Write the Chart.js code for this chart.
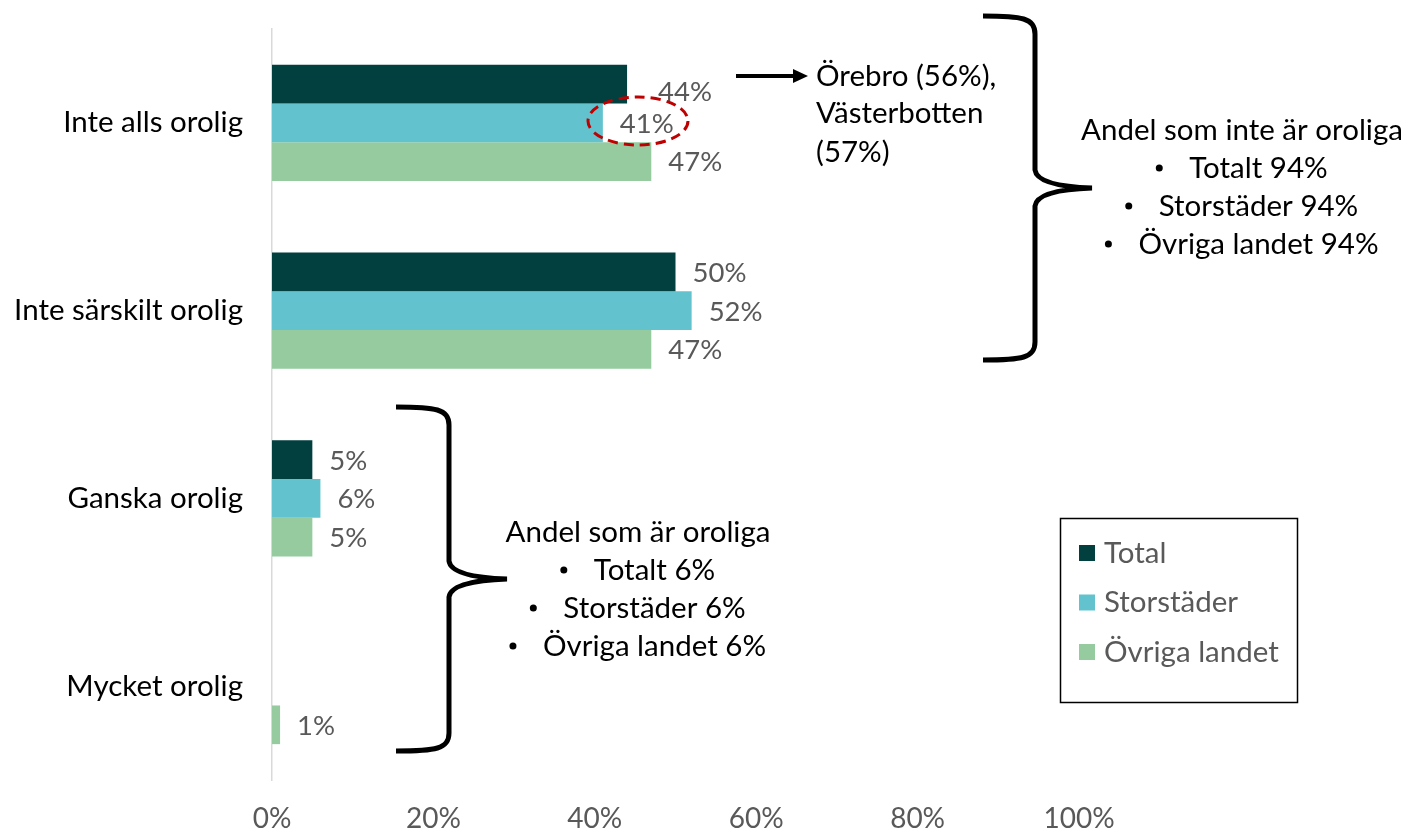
<!DOCTYPE html>
<html>
<head>
<meta charset="utf-8">
<script src="https://cdn.jsdelivr.net/npm/chart.js@4"></script>
<style>
  html, body { margin: 0; padding: 0; background: #fff; }
  #wrap { width: 1407px; height: 832px; }
</style>
</head>
<body>
<div id="wrap"><canvas id="barChart" width="1407" height="832"></canvas></div>
<script>
const categories = ['Inte alls orolig', 'Inte särskilt orolig', 'Ganska orolig', 'Mycket orolig'];
const seriesNames = ['Total', 'Storstäder', 'Övriga landet'];
const totalValues = [44, 50, 5, 0];
const storstaderValues = [41, 52, 6, 0];
const ovrigaValues = [47, 47, 5, 1];
const xTicks = [0, 20, 40, 60, 80, 100];
const colors = ['#023F3F', '#62C3CF', '#95CB9F'];

const FONT = 'Lato, Calibri, "Open Sans", sans-serif';
const TEXT_SIZE = 29.5;

// value labels next to bars
const valueLabels = {
    id: 'valueLabels',
    afterDatasetsDraw(chart) {
        const ctx = chart.ctx;
        ctx.save();
        ctx.font = '27.5px ' + FONT;
        ctx.fillStyle = '#595959';
        ctx.textAlign = 'left';
        ctx.textBaseline = 'middle';
        chart.data.datasets.forEach((ds, di) => {
            const meta = chart.getDatasetMeta(di);
            meta.data.forEach((bar, i) => {
                const v = ds.data[i];
                if (!v) return;
                let dx = 17, dy = 1;
                if (di === 0 && i === 0) { dx = 31; dy = 8; } // moved aside for the ellipse
                ctx.fillText(v + '%', bar.x + dx, bar.y + dy);
            });
        });
        ctx.restore();
    }
};

function drawBrace(ctx, tipX, spineX, pointX, yTop, yBot, r) {
    const yMid = (yTop + yBot) / 2;
    ctx.beginPath();
    ctx.moveTo(tipX, yTop);
    ctx.bezierCurveTo(tipX + (spineX - tipX) * 0.75, yTop, spineX, yTop + 2, spineX, yTop + r);
    ctx.lineTo(spineX, yMid - r);
    ctx.quadraticCurveTo(spineX + 2, yMid - 2, pointX, yMid);
    ctx.quadraticCurveTo(spineX + 2, yMid + 2, spineX, yMid + r);
    ctx.lineTo(spineX, yBot - r);
    ctx.bezierCurveTo(spineX, yBot - 2, tipX + (spineX - tipX) * 0.75, yBot, tipX, yBot);
    ctx.stroke();
}

function drawBulletBlock(ctx, title, lines, cx, y0, lh) {
    ctx.fillStyle = '#000';
    ctx.textBaseline = 'middle';
    ctx.textAlign = 'center';
    ctx.fillText(title, cx, y0);
    ctx.textAlign = 'left';
    const gap = 33;
    lines.forEach((t, k) => {
        const w = ctx.measureText(t).width + gap;
        const left = cx - w / 2;
        const y = y0 + lh * (k + 1);
        ctx.beginPath();
        ctx.arc(left + 3, y, 3.5, 0, Math.PI * 2);
        ctx.fill();
        ctx.fillText(t, left + gap, y);
    });
}

const annotations = {
    id: 'annotations',
    afterDraw(chart) {
        const ctx = chart.ctx;
        ctx.save();
        ctx.strokeStyle = '#000';
        ctx.lineWidth = 5;
        ctx.lineCap = 'butt';
        drawBrace(ctx, 983, 1035, 1092, 16, 360, 18);
        drawBrace(ctx, 396, 449, 507, 407, 751, 18);

        // arrow
        ctx.lineWidth = 4;
        ctx.beginPath();
        ctx.moveTo(736, 76);
        ctx.lineTo(796, 76);
        ctx.stroke();
        ctx.beginPath();
        ctx.moveTo(808, 76);
        ctx.lineTo(793, 69);
        ctx.lineTo(793, 83);
        ctx.closePath();
        ctx.fillStyle = '#000';
        ctx.fill();

        ctx.font = TEXT_SIZE + 'px ' + FONT;
        ctx.fillStyle = '#000';
        ctx.textAlign = 'left';
        ctx.textBaseline = 'middle';
        ctx.fillText('Örebro (56%),', 816, 76);
        ctx.fillText('Västerbotten', 816, 113);
        ctx.fillText('(57%)', 816, 152);

        drawBulletBlock(ctx, 'Andel som inte är oroliga',
            ['Totalt 94%', 'Storstäder 94%', 'Övriga landet 94%'], 1242, 130, 38);
        drawBulletBlock(ctx, 'Andel som är oroliga',
            ['Totalt 6%', 'Storstäder 6%', 'Övriga landet 6%'], 638, 532, 38);

        // dashed ellipse around 41%
        ctx.strokeStyle = '#C00000';
        ctx.lineWidth = 3;
        ctx.setLineDash([10, 6]);
        ctx.beginPath();
        ctx.ellipse(638, 121, 50, 24, 0, 0, Math.PI * 2);
        ctx.stroke();
        ctx.setLineDash([]);

        // legend box
        ctx.strokeStyle = '#000';
        ctx.lineWidth = 1.5;
        ctx.strokeRect(1060.5, 518.5, 237, 184);
        ctx.font = TEXT_SIZE + 'px ' + FONT;
        ctx.textBaseline = 'middle';
        seriesNames.forEach((name, k) => {
            const y = 553 + k * 49.5;
            ctx.fillStyle = colors[k];
            ctx.fillRect(1079, y - 8, 16, 16);
            ctx.fillStyle = '#595959';
            ctx.fillText(name, 1104, y);
        });
        ctx.restore();
    }
};

new Chart(document.getElementById('barChart'), {
    type: 'bar',
    data: {
        labels: categories,
        datasets: [
            { label: seriesNames[0], data: totalValues, backgroundColor: colors[0] },
            { label: seriesNames[1], data: storstaderValues, backgroundColor: colors[1] },
            { label: seriesNames[2], data: ovrigaValues, backgroundColor: colors[2] }
        ]
    },
    options: {
        indexAxis: 'y',
        responsive: false,
        animation: false,
        events: [],
        layout: { padding: { top: 29, right: 328, left: 0, bottom: 0 } },
        datasets: { bar: { barPercentage: 1, categoryPercentage: 0.618 } },
        plugins: { legend: { display: false }, tooltip: { enabled: false } },
        scales: {
            x: {
                min: 0,
                max: 100,
                afterBuildTicks(scale) { scale.ticks = xTicks.map(v => ({ value: v })); },
                afterFit(scale) { scale.height = 52; scale.paddingLeft = 0; scale.paddingRight = 0; },
                grid: { display: false, drawTicks: false },
                border: { display: false },
                ticks: {
                    padding: 22,
                    color: '#595959',
                    font: { family: FONT, size: 28 },
                    callback: v => v + '%'
                }
            },
            y: {
                afterFit(scale) { scale.width = 272; scale.paddingTop = 0; scale.paddingBottom = 0; },
                grid: { display: false, drawTicks: false },
                border: { display: true, color: '#D9D9D9', width: 1.5 },
                ticks: {
                    padding: 29,
                    color: '#000',
                    font: { family: FONT, size: TEXT_SIZE }
                }
            }
        }
    },
    plugins: [valueLabels, annotations]
});
</script>
</body>
</html>
